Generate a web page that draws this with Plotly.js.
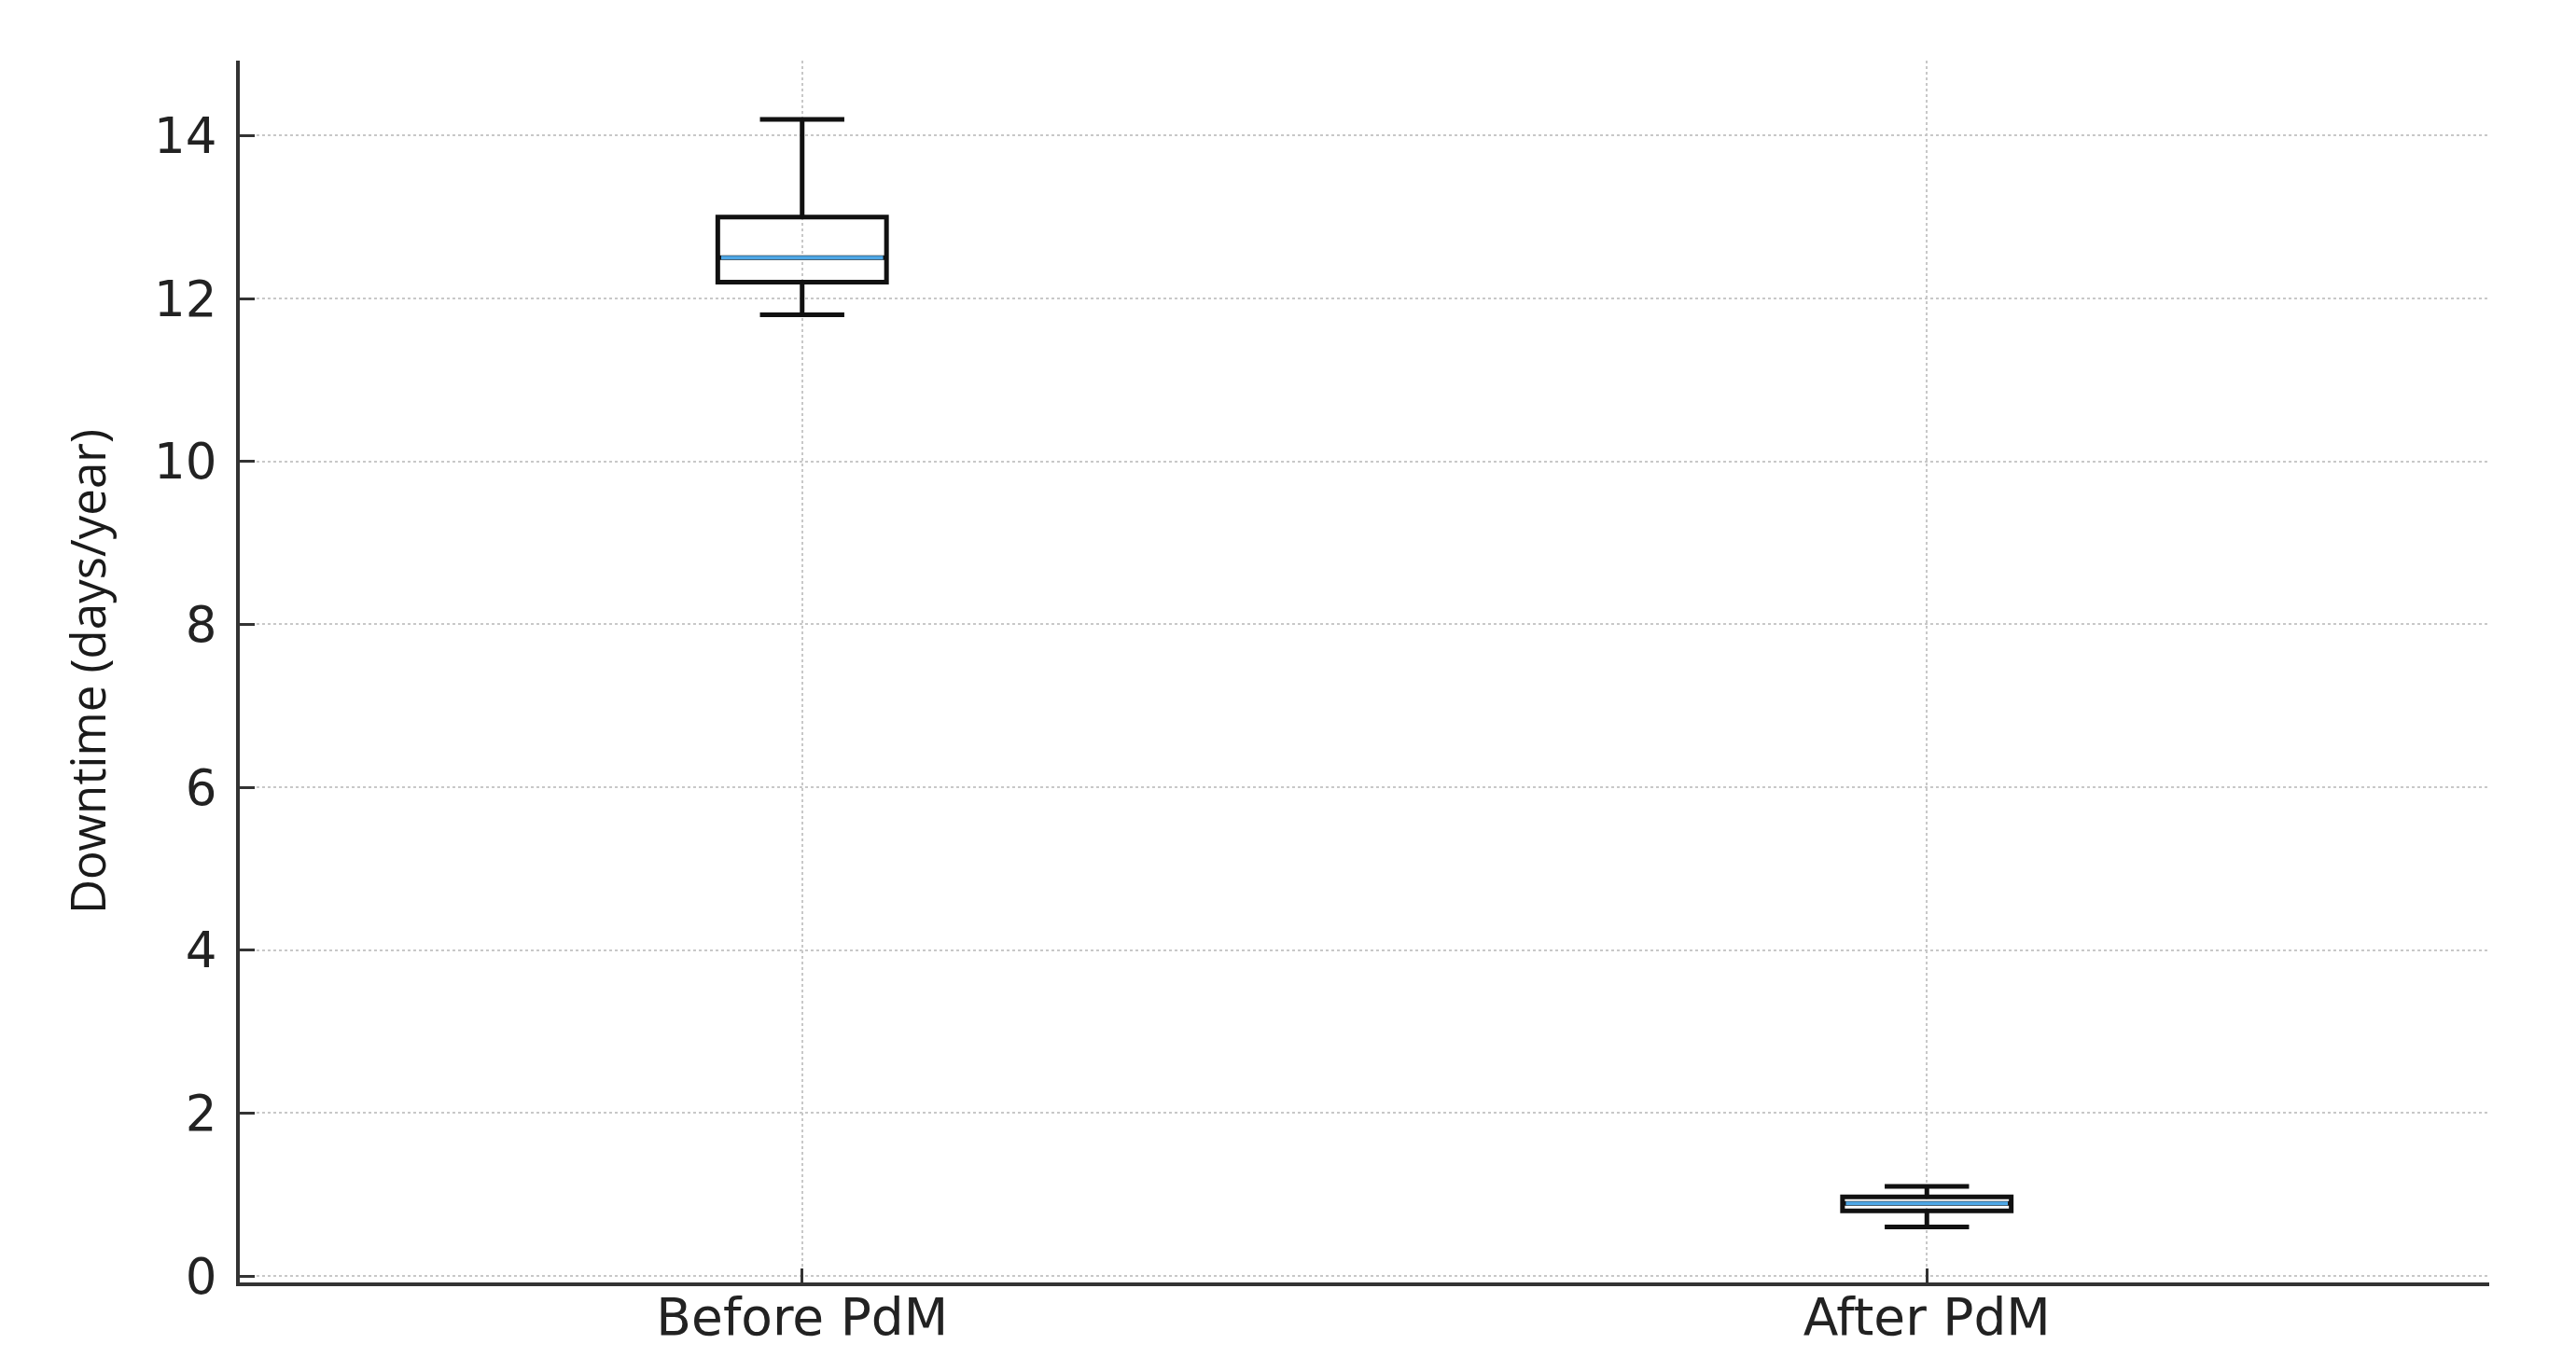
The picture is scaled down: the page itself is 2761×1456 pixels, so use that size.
<!DOCTYPE html>
<html>
<head>
<meta charset="utf-8">
<script src="https://cdn.plot.ly/plotly-3.0.1.min.js"></script>
<style>html,body{margin:0;padding:0;background:#fff;}#chart{width:2761px;height:1456px;}</style>
</head>
<body>
<div id="chart"></div>
<script>
// Data
const categories = ["Before PdM", "After PdM"];
const positions = [0, 1];
const lowerWhisker = [11.8, 0.6];
const q1Values = [12.2, 0.8];
const medianValues = [12.5, 0.89];
const q3Values = [13.0, 0.97];
const upperWhisker = [14.2, 1.1];
const yTicks = [0, 2, 4, 6, 8, 10, 12, 14];

const BOX_WIDTH = 0.15;

const traces = categories.map((c, i) => ({
  type: "box",
  name: c,
  x: [positions[i]],
  q1: [q1Values[i]],
  median: [medianValues[i]],
  q3: [q3Values[i]],
  lowerfence: [lowerWhisker[i]],
  upperfence: [upperWhisker[i]],
  width: BOX_WIDTH,
  whiskerwidth: 0.5,
  fillcolor: "rgba(0,0,0,0)",
  line: { color: "#111111", width: 5 },
  boxpoints: false,
  hoverinfo: "skip",
  showlegend: false
}));

const shapes = categories.map((c, i) => ({
  type: "line",
  xref: "x", yref: "y",
  x0: positions[i] - BOX_WIDTH / 2 + 0.003,
  x1: positions[i] + BOX_WIDTH / 2 - 0.003,
  y0: medianValues[i], y1: medianValues[i],
  line: { color: "#4ea7e6", width: 4 },
  layer: "above"
}));

const layout = {
  width: 2761,
  height: 1456,
  margin: { l: 257, r: 93, t: 65, b: 81, pad: 0 },
  paper_bgcolor: "#ffffff",
  plot_bgcolor: "#ffffff",
  showlegend: false,
  font: { family: "DejaVu Sans", color: "#222222", size: 52 },
  xaxis: {
    range: [-0.5, 1.5],
    tickmode: "array",
    tickvals: positions,
    ticktext: categories,
    showline: true,
    linecolor: "#333333",
    linewidth: 4,
    ticks: "inside",
    ticklen: 15,
    tickwidth: 3,
    tickcolor: "#333333",
    showgrid: true,
    gridcolor: "#c8c8c8",
    gridwidth: 2,
    griddash: "dot",
    zeroline: false,
    ticklabelstandoff: -14,
    tickfont: { family: "DejaVu Sans", size: 55, color: "#222222" },
    fixedrange: true
  },
  yaxis: {
    range: [-0.08, 14.92],
    tickmode: "array",
    tickvals: yTicks,
    ticktext: yTicks.map(String),
    showline: true,
    linecolor: "#333333",
    linewidth: 4,
    ticks: "inside",
    ticklen: 16,
    tickwidth: 3,
    tickcolor: "#333333",
    showgrid: true,
    gridcolor: "#c8c8c8",
    gridwidth: 2,
    griddash: "dot",
    zeroline: false,
    ticklabelstandoff: 10,
    tickfont: { family: "DejaVu Sans", size: 53, color: "#222222" },
    title: {
      text: "Downtime (days/year)",
      font: { family: "Open Sans", size: 51, color: "#1a1a1a" },
      standoff: 36
    },
    fixedrange: true
  },
  shapes: shapes
};

Plotly.newPlot("chart", traces, layout, { staticPlot: true, displayModeBar: false });
</script>
</body>
</html>
